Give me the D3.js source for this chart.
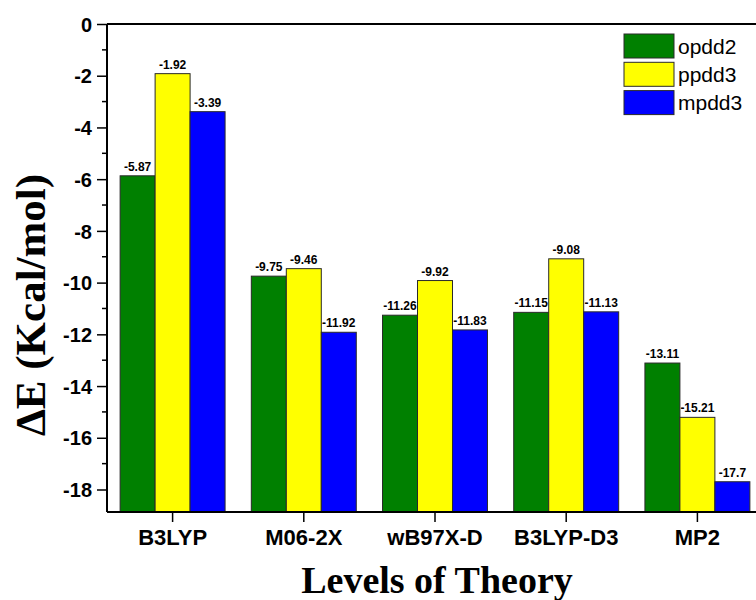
<!DOCTYPE html>
<html>
<head>
<meta charset="utf-8">
<script src="https://cdn.jsdelivr.net/npm/d3@7"></script>
<style>
  html, body { margin: 0; padding: 0; background: #fff; }
  svg { display: block; }
</style>
</head>
<body>
<svg id="chart" width="756" height="600"></svg>
<script>
const categories = ["B3LYP", "M06-2X", "wB97X-D", "B3LYP-D3", "MP2"];
const seriesNames = ["opdd2", "ppdd3", "mpdd3"];
const opdd2 = [-5.87, -9.75, -11.26, -11.15, -13.11];
const ppdd3 = [-1.92, -9.46, -9.92, -9.08, -15.21];
const mpdd3 = [-3.39, -11.92, -11.83, -11.13, -17.7];
const seriesColors = ["#008000", "#ffff00", "#0000ff"];
const majorTicks = [0, -2, -4, -6, -8, -10, -12, -14, -16, -18];
const minorTicks = [-1, -3, -5, -7, -9, -11, -13, -15, -17];

const svg = d3.select("#chart");
const plotLeft = 107, plotRight = 763, plotTop = 24, plotBottom = 512;

const x = d3.scaleBand()
    .domain(categories)
    .range([plotLeft, plotRight])
    .paddingInner(0.2)
    .paddingOuter(0.1);

const xs = d3.scaleBand()
    .domain(seriesNames)
    .range([0, x.bandwidth()]);

const y = d3.scaleLinear()
    .domain([-18.87, 0])
    .range([plotBottom, plotTop]);

const allSeries = [opdd2, ppdd3, mpdd3];
const rows = [];
categories.forEach((c, i) => {
    seriesNames.forEach((s, j) => {
        rows.push({ cat: c, name: s, value: allSeries[j][i], color: seriesColors[j] });
    });
});

// bars grow up from the bottom of the axis (Origin style)
const g = svg.append("g");
g.selectAll("rect.bar")
    .data(rows)
    .join("rect")
    .attr("class", "bar")
    .attr("x", d => x(d.cat) + xs(d.name))
    .attr("y", d => y(d.value))
    .attr("width", xs.bandwidth())
    .attr("height", d => y.range()[0] - y(d.value))
    .attr("fill", d => d.color)
    .attr("stroke", "#2a2a2a")
    .attr("stroke-width", 1);

// value labels
g.selectAll("text.val")
    .data(rows)
    .join("text")
    .attr("class", "val")
    .attr("x", d => x(d.cat) + xs(d.name) + xs.bandwidth() / 2)
    .attr("y", d => y(d.value) - 5)
    .attr("text-anchor", "middle")
    .style("font-family", "'Liberation Sans', Arial, sans-serif")
    .style("font-weight", "bold")
    .style("font-size", "12px")
    .text(d => String(d.value));

// left axis with major + minor ticks
const yAxis = svg.append("g").attr("transform", `translate(${plotLeft},0)`);
yAxis.call(d3.axisLeft(y).tickValues(majorTicks).tickSize(10).tickPadding(5).tickFormat(d3.format("d")));
yAxis.selectAll(".tick text")
    .style("font-family", "'Liberation Sans', Arial, sans-serif")
    .style("font-weight", "bold")
    .style("font-size", "20px")
    .attr("dy", "0.36em")
    .text(d => d === 0 ? "0" : String(d));
yAxis.append("g").selectAll("line")
    .data(minorTicks)
    .join("line")
    .attr("x1", -5).attr("x2", 0)
    .attr("y1", d => y(d)).attr("y2", d => y(d))
    .attr("stroke", "#000").attr("stroke-width", 1.5);
yAxis.selectAll(".tick line").attr("stroke-width", 1.5);
yAxis.select(".domain").remove();

// bottom axis
const xAxis = svg.append("g").attr("transform", `translate(0,${plotBottom})`);
xAxis.call(d3.axisBottom(x).tickSize(10).tickPadding(7));
xAxis.select(".domain").remove();
xAxis.selectAll(".tick line").attr("stroke-width", 1.5);
xAxis.selectAll(".tick text")
    .style("font-family", "'Liberation Sans', Arial, sans-serif")
    .style("font-weight", "bold")
    .style("font-size", "22px");

// frame lines
svg.append("line").attr("x1", plotLeft).attr("x2", 756).attr("y1", plotTop).attr("y2", plotTop)
    .attr("stroke", "#000").attr("stroke-width", 2);
svg.append("line").attr("x1", plotLeft).attr("x2", 756).attr("y1", plotBottom).attr("y2", plotBottom)
    .attr("stroke", "#000").attr("stroke-width", 2);
svg.append("line").attr("x1", plotLeft).attr("x2", plotLeft).attr("y1", plotTop).attr("y2", plotBottom)
    .attr("stroke", "#000").attr("stroke-width", 2);

// legend
const legend = svg.append("g").attr("transform", "translate(624,34)");
const lg = legend.selectAll("g")
    .data(seriesNames)
    .join("g")
    .attr("transform", (d, i) => `translate(0,${i * 28.3})`);
lg.append("rect")
    .attr("width", 50).attr("height", 24)
    .attr("fill", (d, i) => seriesColors[i])
    .attr("stroke", "#2a2a2a").attr("stroke-width", 1);
lg.append("text")
    .attr("x", 54).attr("y", 12).attr("dy", "0.36em")
    .style("font-family", "'Liberation Sans', Arial, sans-serif")
    .style("font-size", "21px")
    .text(d => d);

// axis titles
svg.append("text")
    .attr("transform", "translate(45,305) rotate(-90)")
    .attr("text-anchor", "middle")
    .style("font-family", "'Liberation Serif', 'Times New Roman', serif")
    .style("font-weight", "bold")
    .style("font-size", "43px")
    .text("ΔE (Kcal/mol)");

svg.append("text")
    .attr("x", 437).attr("y", 593)
    .attr("text-anchor", "middle")
    .style("font-family", "'Liberation Serif', 'Times New Roman', serif")
    .style("font-weight", "bold")
    .style("font-size", "38px")
    .text("Levels of Theory");
</script>
</body>
</html>
